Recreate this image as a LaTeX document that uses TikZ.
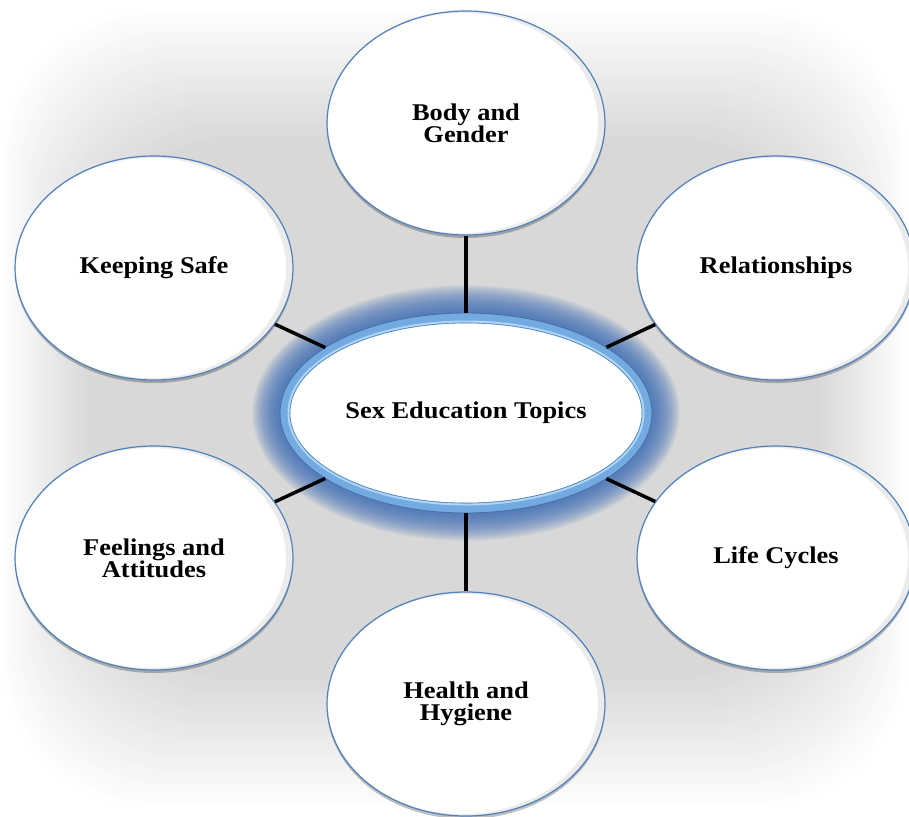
\documentclass[tikz,border=0pt]{standalone}
\usepackage{fontspec}
\setmainfont{Liberation Serif}[FakeStretch=1.1]
\usetikzlibrary{shapes.geometric,shadows}
\definecolor{bgg}{RGB}{216,216,216}
\definecolor{rimblue}{RGB}{79,129,189}
\definecolor{ringblue}{RGB}{115,170,225}
\definecolor{ringlight}{RGB}{175,215,245}
\definecolor{glowblue}{RGB}{60,110,185}
\begin{document}
\begin{tikzpicture}[x=1pt,y=-1pt,
  topic/.style={ellipse, draw=rimblue, line width=1.2pt, fill=white, inner sep=0pt,
    minimum width=278pt, minimum height=224pt, align=center,
    font=\bfseries\fontsize{24}{22}\selectfont,
    drop shadow={shadow xshift=0pt, shadow yshift=-3pt, opacity=0.25, fill=black},
    path picture={\fill[gray!16] (path picture bounding box.south west) rectangle (path picture bounding box.north east);
      \fill[white] ([xshift=-3pt]path picture bounding box.center) ellipse [x radius=135pt, y radius=110pt];}},
  hub/.style={ellipse, draw=ringblue, line width=10pt, fill=white, inner sep=0pt, outer sep=5pt,
    minimum width=362pt, minimum height=190pt, align=center,
    font=\bfseries\fontsize{24}{22}\selectfont},
  link/.style={line width=3.5pt, black}
]
\useasboundingbox (0,0) rectangle (909,816);
% background vignette: white at the edges, light grey in the middle
\fill[white] (0,0) rectangle (909,816);
\foreach \k in {0,...,30}{
  \pgfmathsetmacro{\mix}{100*\k/30}
  \pgfmathsetmacro{\ix}{3*\k}
  \pgfmathsetmacro{\iy}{5+4.5*\k}
  \fill[bgg!\mix!white, rounded corners=150pt] (\ix,\iy) rectangle ({909-\ix},{816-\iy});
}

% glow around the hub
\coordinate (cc) at (466,413);
\foreach \i in {1,...,28}
  \fill[glowblue, opacity=0.055] (cc) ellipse [x radius={186+\i}, y radius={100+\i}];

\node[hub] (c) at (cc) {Sex Education Topics};
\draw[rimblue!85!black, line width=0.8pt] (c.center) ellipse [x radius=186, y radius=100];
\draw[ringlight, line width=2pt] (c.center) ellipse [x radius=177.5, y radius=91.5];
\draw[rimblue, line width=0.6pt] (c.center) ellipse [x radius=176, y radius=90];

\node[topic] (bg)  at (466,123) {Body and\\Gender};
\node[topic] (ks)  at (154,268) {Keeping Safe};
\node[topic] (rel) at (776,268) {Relationships};
\node[topic] (fa)  at (154,558) {Feelings and\\Attitudes};
\node[topic] (lc)  at (776,558) {Life Cycles};
\node[topic] (hh)  at (466,704) {Health and\\Hygiene};

\draw[link] (c) -- (bg);
\draw[link] (c) -- (ks);
\draw[link] (c) -- (rel);
\draw[link] (c) -- (fa);
\draw[link] (c) -- (lc);
\draw[link] (c) -- (hh);
\end{tikzpicture}
\end{document}
